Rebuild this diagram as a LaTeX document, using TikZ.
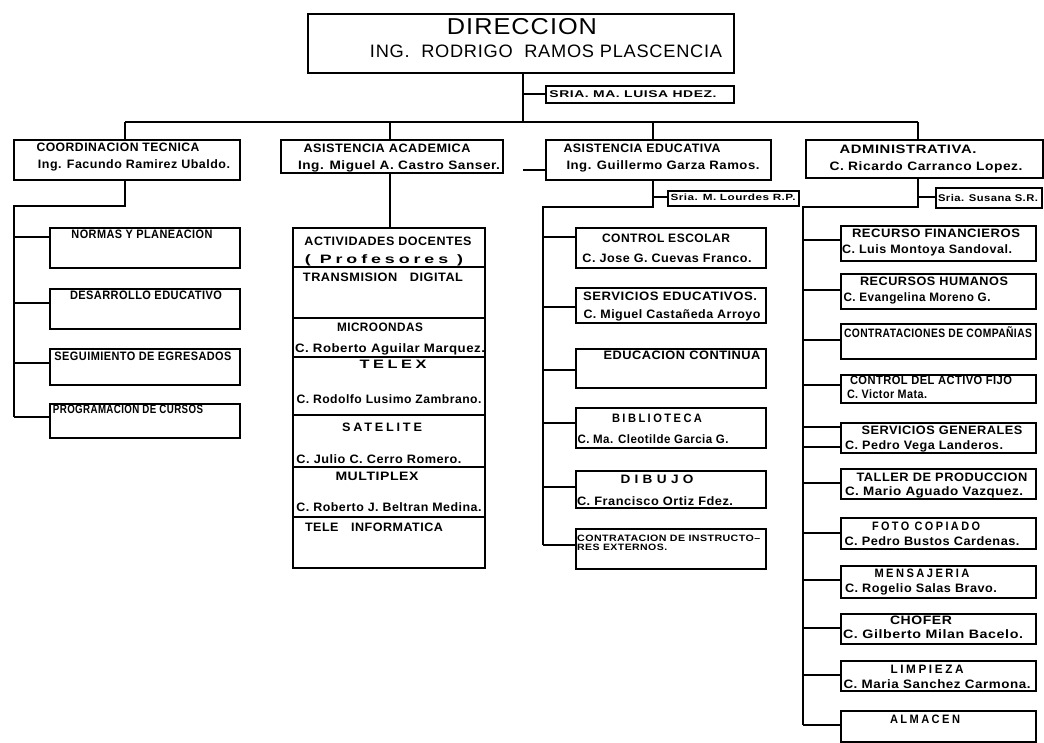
\documentclass[tikz,border=0pt]{standalone}
\usepackage{fontspec}
\usepackage{graphicx}
\setmainfont{Liberation Sans}[LetterSpace=4]
\newcommand\fw[2]{\resizebox{#1pt}{\height}{#2}}
\newcommand\wide{\addfontfeature{LetterSpace=22}}
\tikzset{
  box/.style={draw, line width=1.5pt, inner sep=0pt, anchor=north west},
  conn/.style={line width=2.6pt},
  sep/.style={line width=1.3pt},
  tx/.style={inner sep=0pt, text height=8.8pt, text depth=0pt},
  hd/.style={tx, font=\bfseries\fontsize{12.2}{13}\selectfont},
  bd/.style={tx, font=\bfseries\fontsize{12.2}{13}\selectfont},
  sm/.style={inner sep=0pt, text height=7pt, text depth=0pt, font=\bfseries\fontsize{9.8}{10}\selectfont},
}
\begin{document}
\begin{tikzpicture}[x=1pt,y=-1pt]
\useasboundingbox (0,0) rectangle (1044,742);
% ---------- top ----------
\node[box, minimum width=426pt, minimum height=59pt] (D) at (307,13) {};
\node[inner sep=0pt, text height=16.5pt, text depth=0pt, font=\fontsize{23}{23}\selectfont] (tD1) at (522,26) {\fw{150}{DIRECCION}};
\node[inner sep=0pt, text height=12.9pt, text depth=0pt, font=\fontsize{18}{18}\selectfont] (tD2) at (546,51) {\fw{352}{ING.\ \ RODRIGO\ \ RAMOS PLASCENCIA}};
\node[box, minimum width=188pt, minimum height=17pt] (S0) at (545,85) {};
\node[sm] (tS0) at (633,93.5) {\fw{167}{SRIA. MA. LUISA HDEZ.}};
\coordinate (dj) at (523,122);
\coordinate (sj) at (523,94);
\draw[conn] (D.south -| dj) -- (dj);
\draw[conn] (sj) -- (S0.west |- sj);
\coordinate (b1) at (125,122);
\coordinate (b2) at (390,122);
\coordinate (b3) at (653,122);
\coordinate (b4) at (918,122);
\draw[conn] (b1) -- (b4);
% ---------- column 1 ----------
\node[box, minimum width=226pt, minimum height=40pt] (C1) at (13,139) {};
\node[hd] (tC1a) at (118,147) {\fw{163}{COORDINACION TECNICA}};
\node[bd] (tC1b) at (134,164) {\fw{192}{Ing. Facundo Ramirez Ubaldo.}};
\draw[conn] (b1) -- (C1.north -| b1);
\node[box, minimum width=190pt, minimum height=40pt] (N1) at (49,227) {};
\node[bd] (tN1) at (142,234) {\fw{141}{NORMAS Y PLANEACION}};
\node[box, minimum width=190pt, minimum height=40pt] (N2) at (49,288) {};
\node[bd] (tN2) at (146,295) {\fw{152}{DESARROLLO EDUCATIVO}};
\node[box, minimum width=190pt, minimum height=36pt] (N3) at (49,348) {};
\node[bd] (tN3) at (143,356) {\fw{177}{SEGUIMIENTO DE EGRESADOS}};
\node[box, minimum width=190pt, minimum height=34pt] (N4) at (49,403) {};
\node[bd] (tN4) at (128,409) {\fw{150}{PROGRAMACION DE CURSOS}};
\coordinate (j1) at (125,206);
\coordinate (s1) at (14,206);
\coordinate (s1e) at (14,417);
\draw[conn] (C1.south -| j1) -- (j1) -- (s1) -- (s1e);
\coordinate (k11) at (14,237);
\coordinate (k12) at (14,303);
\coordinate (k13) at (14,363);
\draw[conn] (k11) -- (N1.west |- k11);
\draw[conn] (k12) -- (N2.west |- k12);
\draw[conn] (k13) -- (N3.west |- k13);
\draw[conn] (s1e) -- (N4.west |- s1e);
% ---------- column 2 ----------
\node[box, minimum width=222pt, minimum height=33pt] (C2) at (280,139) {};
\node[hd] (tC2a) at (387,148) {\fw{167}{ASISTENCIA ACADEMICA}};
\node[bd] (tC2b) at (399,165) {\fw{202}{Ing. Miguel A. Castro Sanser.}};
\draw[conn] (b2) -- (C2.north -| b2);
\node[box, minimum width=192pt, minimum height=340pt] (A) at (292,227) {};
\draw[conn] (C2.south -| b2) -- (A.north -| b2);
\foreach \yy in {267,318,357,415,467,517}
  \draw[sep] (A.west |- 0,\yy) -- (A.east |- 0,\yy);
\node[bd] (tA1) at (388,241) {\fw{167}{ACTIVIDADES DOCENTES}};
\node[bd] (tA2) at (384,259) {\fw{158}{\wide( Profesores )}};
\node[bd] (tA3) at (383,277) {\fw{160}{TRANSMISION\quad DIGITAL}};
\node[bd] (tA4) at (380,327) {\fw{86}{MICROONDAS}};
\node[bd] (tA5) at (390,348) {\fw{190}{C. Roberto Aguilar Marquez.}};
\node[bd] (tA6) at (393,364) {\fw{67}{\wide TELEX}};
\node[bd] (tA7) at (389,399) {\fw{185}{C. Rodolfo Lusimo Zambrano.}};
\node[bd] (tA8) at (382,427) {\fw{80}{\wide SATELITE}};
\node[bd] (tA9) at (379,459) {\fw{165}{C. Julio C. Cerro Romero.}};
\node[bd] (tA10) at (377,476) {\fw{83}{MULTIPLEX}};
\node[bd] (tA11) at (389,507) {\fw{185}{C. Roberto J. Beltran Medina.}};
\node[bd] (tA12) at (374,527) {\fw{138}{TELE\quad INFORMATICA}};
% ---------- column 3 ----------
\node[box, minimum width=225pt, minimum height=40pt] (C3) at (545,139) {};
\node[hd] (tC3a) at (642,148) {\fw{157}{ASISTENCIA EDUCATIVA}};
\node[bd] (tC3b) at (663,165) {\fw{193}{Ing. Guillermo Garza Ramos.}};
\draw[conn] (b3) -- (C3.north -| b3);
\coordinate (tk) at (523,170);
\draw[conn] (tk) -- (C3.west |- tk);
\node[box, minimum width=131pt, minimum height=15pt] (SL) at (667,190) {};
\node[sm, font=\bfseries\fontsize{9}{9}\selectfont, text height=6.4pt] (tSL) at (733,197.5) {\fw{125}{Sria. M. Lourdes R.P.}};
\coordinate (j3) at (653,207);
\coordinate (q3) at (653,197);
\coordinate (s3) at (543,207);
\coordinate (s3e) at (543,545);
\draw[conn] (C3.south -| j3) -- (j3) -- (s3) -- (s3e);
\draw[conn] (q3) -- (SL.west |- q3);
\node[box, minimum width=190pt, minimum height=40pt] (E1) at (575,227) {};
\node[bd] (tE1a) at (666,238) {\fw{128}{CONTROL ESCOLAR}};
\node[bd] (tE1b) at (667,258) {\fw{169}{C. Jose G. Cuevas Franco.}};
\node[box, minimum width=190pt, minimum height=35pt] (E2) at (575,287) {};
\node[bd] (tE2a) at (670,296) {\fw{174}{SERVICIOS EDUCATIVOS.}};
\node[bd] (tE2b) at (672,314) {\fw{177}{C. Miguel Castañeda Arroyo}};
\node[box, minimum width=190pt, minimum height=39pt] (E3) at (575,348) {};
\node[bd] (tE3) at (682,355) {\fw{157}{EDUCACION CONTINUA}};
\node[box, minimum width=190pt, minimum height=40pt] (E4) at (575,407) {};
\node[bd] (tE4a) at (657,418) {\fw{90}{\wide BIBLIOTECA}};
\node[bd] (tE4b) at (653,439) {\fw{151}{C. Ma. Cleotilde Garcia G.}};
\node[box, minimum width=190pt, minimum height=37pt] (E5) at (575,470) {};
\node[bd] (tE5a) at (657,479) {\fw{73}{D I B U J O}};
\node[bd] (tE5b) at (655,501) {\fw{156}{C. Francisco Ortiz Fdez.}};
\node[box, minimum width=190pt, minimum height=40pt] (E6) at (575,528) {};
\node[sm, anchor=west, text height=6.6pt, font=\bfseries\fontsize{9.2}{9}\selectfont] (tE6a) at (577,538) {\fw{183}{CONTRATACION DE INSTRUCTO\textendash}};
\node[sm, anchor=west, text height=6.6pt, font=\bfseries\fontsize{9.2}{9}\selectfont] (tE6b) at (577,547) {\fw{90}{RES EXTERNOS.}};
\coordinate (k31) at (543,237);
\coordinate (k32) at (543,307);
\coordinate (k33) at (543,370);
\coordinate (k34) at (543,423);
\coordinate (k35) at (543,487);
\draw[conn] (k31) -- (E1.west |- k31);
\draw[conn] (k32) -- (E2.west |- k32);
\draw[conn] (k33) -- (E3.west |- k33);
\draw[conn] (k34) -- (E4.west |- k34);
\draw[conn] (k35) -- (E5.west |- k35);
\draw[conn] (s3e) -- (E6.west |- s3e);
% ---------- column 4 ----------
\node[box, minimum width=237pt, minimum height=38pt] (C4) at (805,139) {};
\node[hd] (tC4a) at (908,149) {\fw{137}{ADMINISTRATIVA.}};
\node[bd] (tC4b) at (926,166) {\fw{193}{C. Ricardo Carranco Lopez.}};
\draw[conn] (b4) -- (C4.north -| b4);
\node[box, minimum width=106pt, minimum height=20pt] (SS) at (935,187) {};
\node[sm] (tSS) at (988,198) {\fw{100}{Sria. Susana S.R.}};
\coordinate (j4) at (918,207);
\coordinate (q4) at (918,197);
\coordinate (s4) at (803,207);
\coordinate (s4e) at (803,725);
\draw[conn] (C4.south -| j4) -- (j4) -- (s4) -- (s4e);
\draw[conn] (q4) -- (SS.west |- q4);
\node[box, minimum width=195pt, minimum height=35pt] (F1) at (840,225) {};
\node[bd] (tF1a) at (936,233) {\fw{168}{RECURSO FINANCIEROS}};
\node[bd] (tF1b) at (927,249) {\fw{170}{C. Luis Montoya Sandoval.}};
\node[box, minimum width=195pt, minimum height=35pt] (F2) at (840,273) {};
\node[bd] (tF2a) at (934,281) {\fw{148}{RECURSOS HUMANOS}};
\node[bd] (tF2b) at (917,297) {\fw{147}{C. Evangelina Moreno G.}};
\node[box, minimum width=195pt, minimum height=35pt] (F3) at (840,323) {};
\node[bd] (tF3) at (938,333) {\fw{188}{CONTRATACIONES DE COMPAÑIAS}};
\node[box, minimum width=195pt, minimum height=28pt] (F4) at (840,374) {};
\node[bd] (tF4a) at (931,380) {\fw{162}{CONTROL DEL ACTIVO FIJO}};
\node[bd] (tF4b) at (887,394) {\fw{80}{C. Victor Mata.}};
\node[box, minimum width=195pt, minimum height=30pt] (F5) at (840,422) {};
\node[bd] (tF5a) at (942,430) {\fw{161}{SERVICIOS GENERALES}};
\node[bd] (tF5b) at (924,445) {\fw{158}{C. Pedro Vega Landeros.}};
\node[box, minimum width=195pt, minimum height=30pt] (F6) at (840,468) {};
\node[bd] (tF6a) at (942,477) {\fw{171}{TALLER DE PRODUCCION}};
\node[bd] (tF6b) at (934,491) {\fw{178}{C. Mario Aguado Vazquez.}};
\node[box, minimum width=195pt, minimum height=31pt] (F7) at (840,517) {};
\node[bd] (tF7a) at (926,526) {\fw{108}{\wide FOTO COPIADO}};
\node[bd] (tF7b) at (932,541) {\fw{175}{C. Pedro Bustos Cardenas.}};
\node[box, minimum width=195pt, minimum height=32pt] (F8) at (840,565) {};
\node[bd] (tF8a) at (922,573) {\fw{95}{\wide MENSAJERIA}};
\node[bd] (tF8b) at (921,588) {\fw{152}{C. Rogelio Salas Bravo.}};
\node[box, minimum width=195pt, minimum height=30pt] (F9) at (840,613) {};
\node[bd] (tF9a) at (921,620) {\fw{62}{CHOFER}};
\node[bd] (tF9b) at (933,634) {\fw{180}{C. Gilberto Milan Bacelo.}};
\node[box, minimum width=195pt, minimum height=30pt] (F10) at (840,660) {};
\node[bd] (tF10a) at (927,669) {\fw{73}{\wide LIMPIEZA}};
\node[bd] (tF10b) at (937,684) {\fw{187}{C. Maria Sanchez Carmona.}};
\node[box, minimum width=195pt, minimum height=31pt] (F11) at (840,710) {};
\node[bd] (tF11) at (925,719) {\fw{70}{\wide ALMACEN}};
\coordinate (k41) at (803,240);
\coordinate (k42) at (803,290);
\coordinate (k43) at (803,340);
\coordinate (k44) at (803,385);
\coordinate (k45) at (803,427);
\coordinate (k45b) at (803,447);
\coordinate (k46) at (803,483);
\coordinate (k47) at (803,533);
\coordinate (k48) at (803,580);
\coordinate (k49) at (803,628);
\coordinate (k410) at (803,675);
\draw[conn] (k41) -- (F1.west |- k41);
\draw[conn] (k42) -- (F2.west |- k42);
\draw[conn] (k43) -- (F3.west |- k43);
\draw[conn] (k44) -- (F4.west |- k44);
\draw[conn] (k45) -- (F5.west |- k45);
\draw[conn] (k45b) -- (F5.west |- k45b);
\draw[conn] (k46) -- (F6.west |- k46);
\draw[conn] (k47) -- (F7.west |- k47);
\draw[conn] (k48) -- (F8.west |- k48);
\draw[conn] (k49) -- (F9.west |- k49);
\draw[conn] (k410) -- (F10.west |- k410);
\draw[conn] (s4e) -- (F11.west |- s4e);
\end{tikzpicture}
\end{document}
